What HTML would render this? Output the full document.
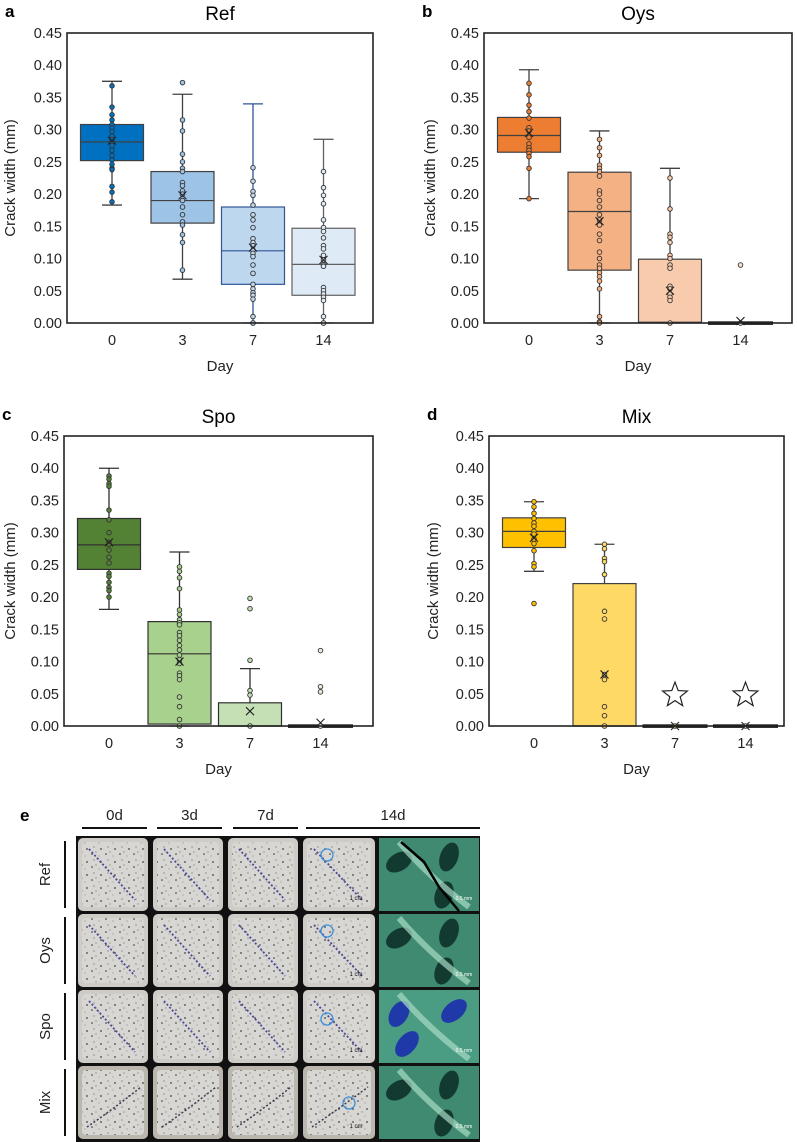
<!DOCTYPE html>
<html><head><meta charset="utf-8"><style>
html,body{margin:0;padding:0;background:#fff;width:797px;height:1142px;overflow:hidden}
svg{display:block;font-family:"Liberation Sans",sans-serif}
</style></head><body>
<svg id="fig" width="797" height="1142" viewBox="0 0 797 1142">
<defs>
<pattern id="speck" width="14" height="13" patternUnits="userSpaceOnUse">
<rect width="14" height="13" fill="#d8d6d2"/>
<circle cx="3" cy="4" r="0.9" fill="#444"/>
<circle cx="10" cy="2" r="0.6" fill="#666"/>
<circle cx="8" cy="9" r="0.8" fill="#333"/>
<circle cx="1" cy="11" r="0.5" fill="#777"/>
<rect x="11" y="6" width="2" height="2" fill="#bdbab4"/>
</pattern>
</defs>
</svg>
<script>
const days=["0","3","7","14"];
const yTicks=["0.00","0.05","0.10","0.15","0.20","0.25","0.30","0.35","0.40","0.45"];
// Ref
const refWhiskerLow=[0.183,0.068,0,0];
const refWhiskerHigh=[0.375,0.355,0.34,0.285];
const refQ1=[0.252,0.155,0.06,0.043];
const refQ3=[0.308,0.235,0.18,0.147];
const refMedian=[0.281,0.19,0.112,0.091];
const refMean=[0.283,0.198,0.117,0.098];
const refPoints=[
[0.368,0.335,0.323,0.315,0.308,0.303,0.297,0.29,0.285,0.28,0.275,0.268,0.26,0.253,0.246,0.24,0.238,0.212,0.203,0.188],
[0.373,0.315,0.298,0.262,0.25,0.24,0.235,0.218,0.213,0.205,0.2,0.19,0.18,0.168,0.157,0.152,0.137,0.125,0.082],
[0.241,0.22,0.204,0.198,0.183,0.168,0.16,0.148,0.131,0.125,0.12,0.113,0.108,0.103,0.09,0.077,0.06,0.053,0.047,0.043,0.037,0.01,0,0],
[0.235,0.21,0.198,0.185,0.16,0.148,0.142,0.132,0.12,0.115,0.105,0.098,0.09,0.088,0.055,0.05,0.045,0.04,0.035,0.01,0,0]];
// Oys
const oysWhiskerLow=[0.193,0,0,0];
const oysWhiskerHigh=[0.393,0.298,0.24,0];
const oysQ1=[0.265,0.082,0.001,0];
const oysQ3=[0.319,0.234,0.099,0.001];
const oysMedian=[0.291,0.173,0.001,0];
const oysMean=[0.295,0.158,0.05,0.003];
const oysPoints=[
[0.372,0.354,0.338,0.328,0.318,0.303,0.298,0.29,0.288,0.278,0.272,0.268,0.263,0.258,0.24,0.193],
[0.285,0.272,0.26,0.245,0.24,0.235,0.228,0.205,0.2,0.19,0.18,0.168,0.16,0.152,0.138,0.128,0.11,0.1,0.09,0.085,0.078,0.072,0.065,0.053,0.01,0.002,0],
[0.225,0.177,0.138,0.133,0.125,0.105,0.1,0.09,0.085,0.057,0.053,0.045,0.04,0.035,0],
[0.09,0]];
// Spo
const spoWhiskerLow=[0.181,0,0,0];
const spoWhiskerHigh=[0.4,0.27,0.089,0];
const spoQ1=[0.243,0.003,0,0];
const spoQ3=[0.322,0.162,0.036,0.001];
const spoMedian=[0.281,0.112,0,0];
const spoMean=[0.285,0.1,0.023,0.005];
const spoPoints=[
[0.388,0.383,0.376,0.372,0.335,0.32,0.3,0.285,0.282,0.273,0.262,0.253,0.237,0.232,0.223,0.215,0.21,0.2],
[0.247,0.24,0.23,0.213,0.18,0.173,0.165,0.16,0.157,0.145,0.14,0.133,0.125,0.118,0.11,0.103,0.097,0.082,0.078,0.072,0.045,0.03,0.01,0],
[0.198,0.182,0.102,0.055,0.048,0],
[0.117,0.061,0.053,0]];
// Mix
const mixWhiskerLow=[0.24,0,0,0];
const mixWhiskerHigh=[0.348,0.282,0,0];
const mixQ1=[0.277,0,0,0];
const mixQ3=[0.323,0.221,0.001,0.001];
const mixMedian=[0.302,0,0,0];
const mixMean=[0.292,0.08,0,0];
const mixPoints=[
[0.348,0.34,0.33,0.322,0.315,0.31,0.302,0.298,0.29,0.283,0.272,0.252,0.247,0.19],
[0.282,0.275,0.26,0.255,0.235,0.178,0.166,0.08,0.072,0.03,0.016,0],
[0],[0]];
const mixStarValue=[null,null,0.048,0.048];

const NS="http://www.w3.org/2000/svg";
const fig=document.getElementById('fig');
function mk(tag,attrs,parent,text){const e=document.createElementNS(NS,tag);for(const k in attrs)e.setAttribute(k,attrs[k]);if(text!=null)e.textContent=text;(parent||fig).appendChild(e);return e;}

const panels=[
 {key:'a',title:'Ref',L:67,R:373,T:33,B:323,ylab:9,fills:['#0070c0','#9dc3e6','#bdd7ee','#deebf7'],edges:['#404040','#404040','#2f5597','#606060'],dot:['#0070c0','#9dc3e6','#bdd7ee','#deebf7'],wl:refWhiskerLow,wh:refWhiskerHigh,q1:refQ1,q3:refQ3,med:refMedian,mean:refMean,pts:refPoints},
 {key:'b',title:'Oys',L:484,R:792,T:33,B:323,ylab:429,fills:['#ed7d31','#f4b183','#f8cbad','#fbe5d6'],edges:['#404040','#404040','#404040','#404040'],dot:['#ed7d31','#f4b183','#f8cbad','#fbe5d6'],wl:oysWhiskerLow,wh:oysWhiskerHigh,q1:oysQ1,q3:oysQ3,med:oysMedian,mean:oysMean,pts:oysPoints},
 {key:'c',title:'Spo',L:64,R:373,T:436,B:726,ylab:9,fills:['#548235','#a9d18e','#c5e0b4','#e2f0d9'],edges:['#303030','#303030','#303030','#303030'],dot:['#548235','#a9d18e','#c5e0b4','#e2f0d9'],wl:spoWhiskerLow,wh:spoWhiskerHigh,q1:spoQ1,q3:spoQ3,med:spoMedian,mean:spoMean,pts:spoPoints},
 {key:'d',title:'Mix',L:489,R:784,T:436,B:726,ylab:432,fills:['#ffc000','#ffd966','#ffe699','#fff2cc'],edges:['#404040','#404040','#404040','#404040'],dot:['#ffc000','#ffd966','#ffe699','#fff2cc'],wl:mixWhiskerLow,wh:mixWhiskerHigh,q1:mixQ1,q3:mixQ3,med:mixMedian,mean:mixMean,pts:mixPoints,stars:mixStarValue}
];

panels.forEach(p=>{
  const g=mk('g',{},fig);
  
  
  const y=v=>p.B-(v/0.45)*(p.B-p.T);
  const x=i=>p.L+45+i*70.5;
  const bw=63;
  const lt=mk('text',{x:p.L-62,y:p.T-16,'font-size':17,'font-weight':'bold'},g,p.key);
  
  const tt=mk('text',{x:(p.L+p.R)/2,y:p.T-13,'font-size':19,'text-anchor':'middle'},g,p.title);
  
  yTicks.forEach(t=>{
    const yy=y(parseFloat(t));
    const tl=mk('text',{x:p.L-5,y:yy+5,'font-size':14.5,'text-anchor':'end',fill:'#222'},g,t);
    
  });
  const yt=mk('text',{transform:`translate(${p.ylab+6},${(p.T+p.B)/2}) rotate(-90)`,'font-size':15,'text-anchor':'middle',fill:'#222'},g,'Crack width (mm)');
  
  days.forEach((d,i)=>{
    const xl=mk('text',{x:x(i),y:p.B+22,'font-size':14.5,'text-anchor':'middle',fill:'#222'},g,d);
    
  });
  const xt=mk('text',{x:(p.L+p.R)/2,y:p.B+48,'font-size':15,'text-anchor':'middle',fill:'#222'},g,'Day');
  
  days.forEach((d,i)=>{
    const cx=x(i);const ec=p.edges[i];
    const bg=mk('g',{},g);
    
    
    if(p.wh[i]>p.wl[i]){
      mk('line',{x1:cx,x2:cx,y1:y(p.wl[i]),y2:y(p.wh[i]),stroke:ec,'stroke-width':1.3},bg);
      mk('line',{x1:cx-10,x2:cx+10,y1:y(p.wh[i]),y2:y(p.wh[i]),stroke:ec,'stroke-width':1.3},bg);
      mk('line',{x1:cx-10,x2:cx+10,y1:y(p.wl[i]),y2:y(p.wl[i]),stroke:ec,'stroke-width':1.3},bg);
    }
    const h=Math.max(1.5,y(p.q1[i])-y(p.q3[i]));
    mk('rect',{x:cx-bw/2,y:y(p.q3[i]),width:bw,height:h,fill:p.fills[i],stroke:h<3?'#111':ec,'stroke-width':h<3?2:1.2},bg);
    mk('line',{x1:cx-bw/2,x2:cx+bw/2,y1:y(p.med[i]),y2:y(p.med[i]),stroke:ec,'stroke-width':1.2},bg);
    p.pts[i].forEach(v=>{
      const c=mk('circle',{cx:cx,cy:y(v),r:2.3,fill:p.dot[i],stroke:'#333','stroke-width':0.9},bg);
      
      
    });
    const my=y(p.mean[i]);
    mk('path',{d:`M${cx-4},${my-4}L${cx+4},${my+4}M${cx-4},${my+4}L${cx+4},${my-4}`,stroke:'#222','stroke-width':1.1},bg);
    if(p.stars&&p.stars[i]!=null){
      const sy=y(p.stars[i]);let dd='';
      for(let k=0;k<10;k++){const r=k%2?5.5:13;const a=-Math.PI/2+k*Math.PI/5;dd+=(k?'L':'M')+(cx+r*Math.cos(a)).toFixed(1)+','+(sy+r*Math.sin(a)).toFixed(1);}
      const st=mk('path',{d:dd+'Z',fill:'#fff',stroke:'#222','stroke-width':1.2},bg);
      
    }
  });
  const fr=mk('rect',{x:p.L,y:p.T,width:p.R-p.L,height:p.B-p.T,fill:'none',stroke:'#222','stroke-width':1.6},g);
  
});

// Panel e: photo grid
const rowsE=["Ref","Oys","Spo","Mix"];
const colsE=["0d","3d","7d","14d"];
const pe=mk('g',{},fig);


mk('text',{x:20,y:821,'font-size':17,'font-weight':'bold'},pe,'e');
const hdr=[[82,147],[157,222],[233,298],[306,480]];
colsE.forEach((c,i)=>{
  const t=mk('text',{x:(hdr[i][0]+hdr[i][1])/2,y:820,'font-size':15,'text-anchor':'middle',fill:'#222'},pe,c);
  
  mk('line',{x1:hdr[i][0],x2:hdr[i][1],y1:828,y2:828,stroke:'#111','stroke-width':2},pe);
});
mk('rect',{x:76,y:836,width:404,height:306,fill:'#111'},pe);
const colX=[77,152,227,302,379];const colW=[72,72,72,74,100];
const rowY=[837,913,989,1065];const rowH=75;
rowsE.forEach((r,ri)=>{
  const t=mk('text',{transform:`translate(50,${rowY[ri]+rowH/2}) rotate(-90)`,'font-size':15,'text-anchor':'middle',fill:'#222'},pe,r);
  
  mk('line',{x1:65,x2:65,y1:rowY[ri]+4,y2:rowY[ri]+rowH-4,stroke:'#111','stroke-width':2},pe);
  for(let ci=0;ci<5;ci++){
    const x0=colX[ci],y0=rowY[ri],w=colW[ci];
    if(ci<4){
      mk('rect',{x:x0+1,y:y0+1,width:w-2,height:rowH-2,rx:5,fill:ri==3?'#bcb7ae':'#cfccc7'},pe);
      mk('rect',{x:x0+5,y:y0+5,width:w-10,height:rowH-10,rx:4,fill:'url(#speck)'},pe);
      if(ri==3) mk('path',{d:`M${x0+10},${y0+62}Q${x0+35},${y0+45} ${x0+w-8},${y0+22}`,stroke:'#3a3a50',fill:'none','stroke-width':1.5,'stroke-dasharray':'2 2'},pe);
      else mk('path',{d:`M${x0+12},${y0+12}L${x0+w-14},${y0+rowH-12}`,stroke:'#4a4a9a',fill:'none','stroke-width':1.8,'stroke-dasharray':'2 2'},pe);
      if(ci==3){mk('circle',{cx:x0+(ri==3?47:25),cy:y0+(ri==2?30:(ri==3?38:18)),r:6,fill:'none',stroke:'#3a8fd8','stroke-width':1.3},pe);
        mk('text',{x:x0+w-20,y:y0+rowH-12,'font-size':6,'text-anchor':'middle',fill:'#111'},pe,'1 cm');}
    } else {
      mk('rect',{x:x0,y:y0+1,width:w,height:rowH-2,fill:ri==2?'#4a9c82':'#3f8a70'},pe);
      if(ri==2){
        mk('ellipse',{cx:x0+20,cy:y0+25,rx:9,ry:14,fill:'#1f3aa8',transform:`rotate(30 ${x0+20} ${y0+25})`},pe);
        mk('ellipse',{cx:x0+75,cy:y0+22,rx:9,ry:15,fill:'#1f3aa8',transform:`rotate(50 ${x0+75} ${y0+22})`},pe);
        mk('ellipse',{cx:x0+28,cy:y0+55,rx:9,ry:15,fill:'#1f3aa8',transform:`rotate(40 ${x0+28} ${y0+55})`},pe);
      } else {
        mk('ellipse',{cx:x0+20,cy:y0+25,rx:9,ry:14,fill:'#123a30',transform:`rotate(60 ${x0+20} ${y0+25})`},pe);
        mk('ellipse',{cx:x0+70,cy:y0+20,rx:9,ry:15,fill:'#123a30',transform:`rotate(20 ${x0+70} ${y0+20})`},pe);
        mk('ellipse',{cx:x0+65,cy:y0+58,rx:9,ry:14,fill:'#123a30',transform:`rotate(20 ${x0+65} ${y0+58})`},pe);
      }
      mk('path',{d:`M${x0+20},${y0+5}Q${x0+50},${y0+40} ${x0+90},${y0+70}`,stroke:'#a8dcc4',fill:'none','stroke-width':6,opacity:0.7},pe);
      if(ri==0) mk('path',{d:`M${x0+22},${y0+5}L${x0+45},${y0+25}L${x0+60},${y0+50}L${x0+80},${y0+74}`,stroke:'#000',fill:'none','stroke-width':2.5},pe);
      mk('text',{x:x0+w-15,y:y0+rowH-12,'font-size':5,'text-anchor':'middle',fill:'#fff'},pe,'0.5 mm');
    }
  }
});
</script>
</body></html>
